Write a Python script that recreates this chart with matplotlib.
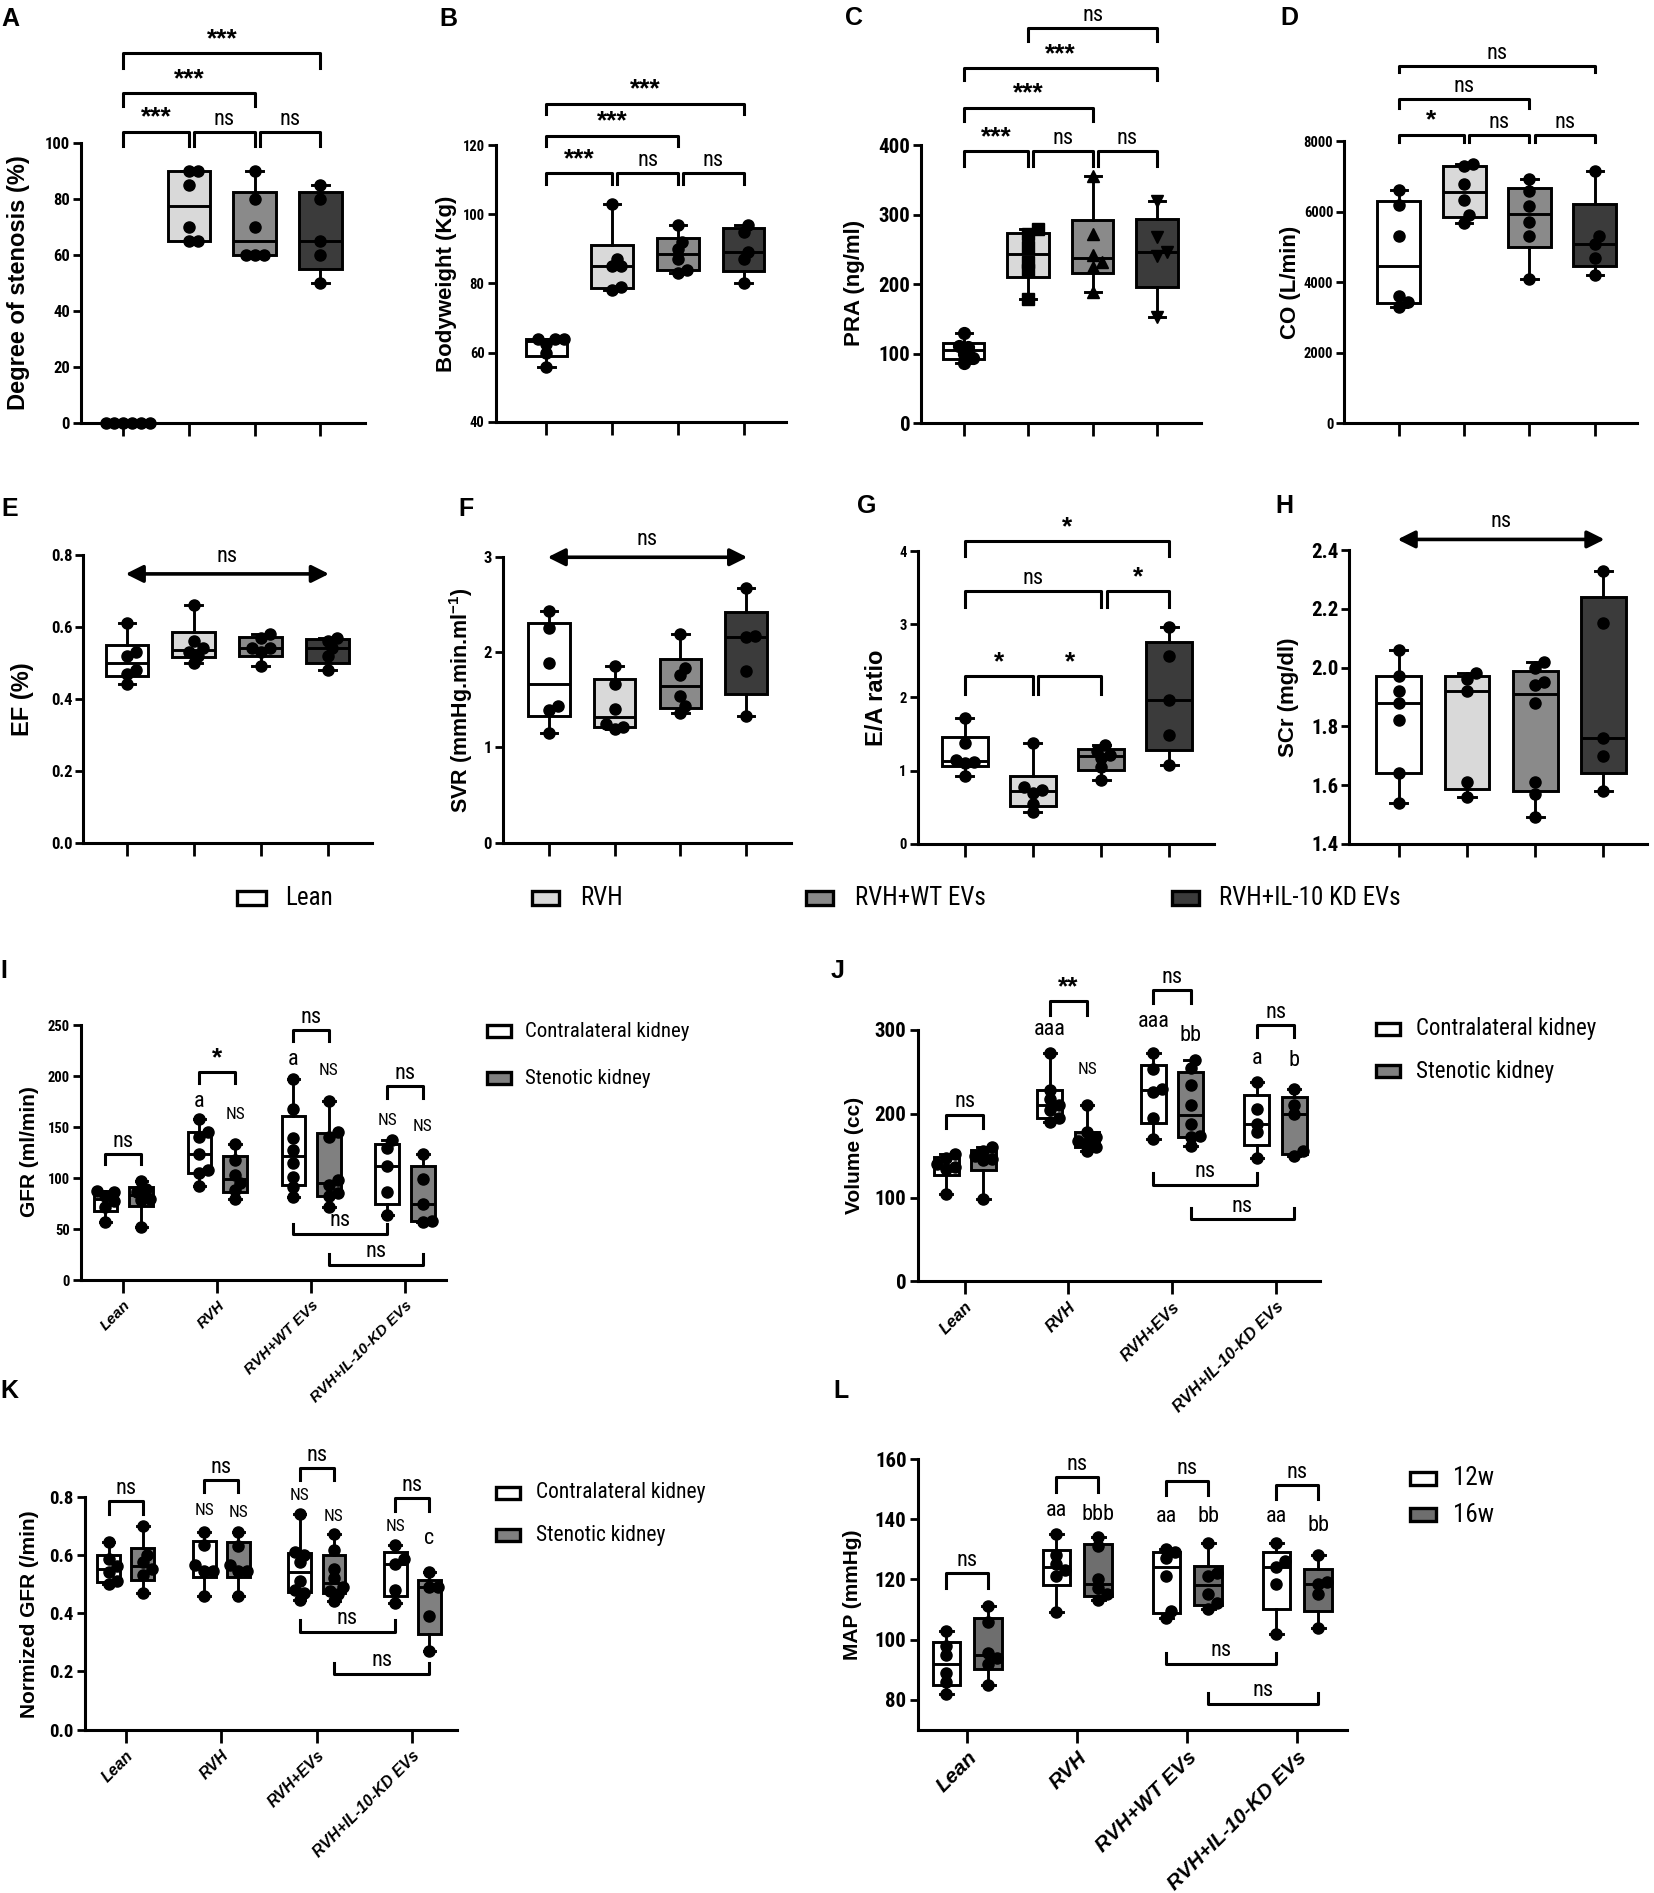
import numpy as np
import matplotlib.pyplot as plt
from matplotlib import font_manager as fm
from matplotlib.patches import Rectangle

# pick a narrow sans for ticks / annotations if one is installed
names = {f.name for f in fm.fontManager.ttflist}
narrow, stretch = 'Liberation Sans', 'normal'
for n in ['Liberation Sans Narrow', 'Arial Narrow', 'Roboto Condensed', 'Open Sans Condensed', 'Noto Sans Condensed']:
    if n in names:
        narrow = n
        break
else:
    for n in ['Noto Sans', 'Open Sans', 'Roboto', 'DejaVu Sans']:
        if any(f.name == n and 'condensed' in str(f.stretch) for f in fm.fontManager.ttflist):
            narrow, stretch = n, 'condensed'
            break

plt.rcParams['font.family'] = [narrow, 'Liberation Sans', 'DejaVu Sans']
plt.rcParams['font.stretch'] = stretch
plt.rcParams['mathtext.fontset'] = 'custom'
plt.rcParams['mathtext.rm'] = 'Liberation Sans'
plt.rcParams['mathtext.bf'] = 'Liberation Sans:bold'

# ---- data ----
groups = ['Lean', 'RVH', 'RVH+WT EVs', 'RVH+IL-10 KD EVs']
group_colors = ['#ffffff', '#d9d9d9', '#8a8a8a', '#3b3b3b']

stenosis = [[0, 0, 0, 0, 0, 0], [65, 65, 70, 85, 90, 90], [60, 60, 60, 70, 80, 90], [50, 60, 65, 80, 85]]
bodyweight = [[56, 60, 62.5, 64, 64, 64], [78, 79, 85, 85, 87, 103], [83, 84, 87, 90, 92, 97], [80, 87, 89, 95, 97]]
pra = [[87, 93, 100, 110, 111, 130], [178, 220, 232, 254, 272, 279], [188, 225, 232, 242, 272, 355], [152, 240, 246, 268, 320]]
co = [[3300, 3450, 3600, 5300, 6200, 6630], [5680, 5900, 6330, 6800, 7300, 7350],
      [4100, 5300, 5700, 6160, 6600, 6930], [4200, 4700, 5080, 5300, 7150]]
ef = [[0.44, 0.47, 0.48, 0.52, 0.53, 0.61], [0.50, 0.52, 0.53, 0.54, 0.56, 0.66],
      [0.49, 0.53, 0.54, 0.54, 0.57, 0.58], [0.48, 0.52, 0.54, 0.56, 0.57]]
svr = [[1.15, 1.39, 1.44, 1.89, 2.26, 2.44], [1.19, 1.22, 1.25, 1.40, 1.67, 1.86],
       [1.36, 1.44, 1.54, 1.76, 1.84, 2.19], [1.33, 1.80, 2.16, 2.17, 2.68]]
ea = [[0.93, 1.10, 1.12, 1.15, 1.38, 1.72], [0.43, 0.55, 0.70, 0.74, 0.78, 1.38],
      [0.87, 1.05, 1.17, 1.22, 1.27, 1.35], [1.07, 1.49, 1.96, 2.57, 2.96]]
scr = [[1.54, 1.64, 1.82, 1.88, 1.92, 1.97, 2.06], [1.56, 1.61, 1.92, 1.96, 1.98],
       [1.49, 1.57, 1.61, 1.88, 1.94, 1.95, 2.00, 2.02], [1.58, 1.70, 1.76, 2.15, 2.33]]

kidney_labels = ['Contralateral kidney', 'Stenotic kidney']
week_labels = ['12w', '16w']
gfr_contra = [[57, 72, 78, 82, 86, 87], [92, 105, 108, 124, 140, 145, 158],
              [81, 91, 101, 115, 128, 139, 168, 197], [64, 86, 112, 130, 137]]
gfr_sten = [[52, 79, 80, 86, 89, 97], [80, 88, 95, 103, 118, 133],
            [72, 82, 85, 93, 98, 140, 145, 176], [57, 58, 75, 99, 124]]
vol_contra = [[104, 134, 136, 140, 147, 152], [190, 195, 205, 210, 218, 228, 272],
              [170, 195, 226, 230, 253, 273], [147, 178, 188, 206, 238]]
vol_sten = [[98, 145, 146, 150, 155, 160], [155, 160, 165, 168, 172, 178, 210],
            [162, 172, 174, 188, 210, 234, 255, 264], [150, 155, 200, 210, 230]]
ngfr_contra = [[0.50, 0.51, 0.54, 0.56, 0.585, 0.645], [0.46, 0.545, 0.545, 0.565, 0.635, 0.68],
               [0.445, 0.47, 0.48, 0.51, 0.575, 0.60, 0.61, 0.74], [0.435, 0.48, 0.57, 0.585, 0.635]]
ngfr_sten = [[0.47, 0.53, 0.55, 0.575, 0.60, 0.70], [0.46, 0.545, 0.545, 0.565, 0.63, 0.68],
             [0.44, 0.465, 0.475, 0.49, 0.52, 0.55, 0.615, 0.67], [0.27, 0.39, 0.49, 0.49, 0.54]]
map_12w = [[82, 86, 89, 95, 98, 103], [109, 121, 123, 125, 128, 135],
           [107, 109.5, 121, 127, 129, 130], [102, 118.5, 124, 126, 132]]
map_16w = [[85, 92, 94, 95.5, 106, 111], [113, 115, 117, 120, 131, 134],
           [110, 112, 115, 121, 122, 132], [104, 115, 118.5, 119, 128]]

xlab_I = ['Lean', 'RVH', 'RVH+WT EVs', 'RVH+IL-10-KD EVs']
xlab_J = ['Lean', 'RVH', 'RVH+EVs', 'RVH+IL-10-KD EVs']
xlab_K = ['Lean', 'RVH', 'RVH+EVs', 'RVH+IL-10-KD EVs']
xlab_L = ['Lean', 'RVH', 'RVH+WT EVs', 'RVH+IL-10-KD EVs']

# comparisons (i, j, label, bracket top, leg end)
cmp_A = [(0, 1, '***', 103.9, 98.8), (1, 2, 'ns', 103.9, 98.8), (2, 3, 'ns', 103.9, 98.8),
         (0, 2, '***', 117.6, 113), (0, 3, '***', 131.9, 126.5)]
cmp_B = [(0, 1, '***', 111.8, 108.8), (1, 2, 'ns', 111.8, 108.8), (2, 3, 'ns', 111.8, 108.8),
         (0, 2, '***', 122.7, 119.8), (0, 3, '***', 132, 129)]
cmp_C = [(0, 1, '***', 391, 370), (1, 2, 'ns', 391, 370), (2, 3, 'ns', 391, 370),
         (0, 2, '***', 454, 435), (0, 3, '***', 511, 493), (1, 3, 'ns', 569, 550)]
cmp_D = [(0, 1, '*', 8190, 7970), (1, 2, 'ns', 8190, 7970), (2, 3, 'ns', 8190, 7970),
         (0, 2, 'ns', 9210, 8940), (0, 3, 'ns', 10150, 9980)]
cmp_G = [(0, 1, '*', 2.29, 2.05), (1, 2, '*', 2.29, 2.05), (0, 2, 'ns', 3.45, 3.24),
         (2, 3, '*', 3.45, 3.24), (0, 3, '*', 4.14, 3.93)]
arrow_E = (0.747, 'ns')
arrow_F = (3.0, 'ns')
arrow_H = (2.436, 'ns')

# paired panels: upper (group, label, top, leg), lower (g1, g2, side, label, line, leg), letters (group, side, text, y)
up_I = [(0, 'ns', 124, 114), (1, '*', 204, 193), (2, 'ns', 245, 234), (3, 'ns', 190, 179)]
low_I = [(2, 3, -1, 'ns', 45, 55.5), (2, 3, 1, 'ns', 14.7, 25.5)]
let_I = [(1, -1, 'a', 175), (1, 1, 'NS', 162), (2, -1, 'a', 216), (2, 1, 'NS', 205), (3, -1, 'NS', 156), (3, 1, 'NS', 151)]
up_J = [(0, 'ns', 199, 183), (1, '**', 334, 318), (2, 'ns', 348, 332), (3, 'ns', 306, 292)]
low_J = [(2, 3, -1, 'ns', 115, 129), (2, 3, 1, 'ns', 74, 87)]
let_J = [(1, -1, 'aaa', 300), (1, 1, 'NS', 253), (2, -1, 'aaa', 310), (2, 1, 'bb', 293), (3, -1, 'a', 266), (3, 1, 'b', 264)]
up_K = [(0, 'ns', 0.783, 0.741), (1, 'ns', 0.855, 0.815), (2, 'ns', 0.898, 0.857), (3, 'ns', 0.794, 0.752)]
low_K = [(2, 3, -1, 'ns', 0.337, 0.375), (2, 3, 1, 'ns', 0.192, 0.229)]
let_K = [(1, -1, 'NS', 0.752), (1, 1, 'NS', 0.744), (2, -1, 'NS', 0.803), (2, 1, 'NS', 0.733), (3, -1, 'NS', 0.698), (3, 1, 'c', 0.655)]
up_L = [(0, 'ns', 122, 117.3), (1, 'ns', 154, 149), (2, 'ns', 152.8, 148), (3, 'ns', 151.4, 146.7)]
low_L = [(2, 3, -1, 'ns', 91.8, 95.6), (2, 3, 1, 'ns', 78.5, 82.4)]
let_L = [(1, -1, 'aa', 143), (1, 1, 'bbb', 141.5), (2, -1, 'aa', 141), (2, 1, 'bb', 141), (3, -1, 'aa', 141), (3, 1, 'bb', 137.8)]

# ---- layout helpers (reference measured on a 1368 x 1566 grid) ----
W, H = 1368.0, 1566.0
fig = plt.figure(figsize=(16.54, 18.93), dpi=100)


def add_panel(spine, end, ybot, ytop, c0, c3, ylim):
    ax = fig.add_axes([spine / W, 1 - ybot / H, (end - spine) / W, (ybot - ytop) / H])
    step = (c3 - c0) / 3
    ax.set_xlim(-(c0 - spine) / step, (end - c0) / step)
    ax.set_ylim(*ylim)
    ax.spines[['top', 'right']].set_visible(False)
    ax.spines[['left', 'bottom']].set_linewidth(2.2)
    ax.patch.set_alpha(0)
    return ax


def style_ticks(ax, yticks, fmt, size, xlabels=None, xsize=11):
    ax.set_yticks(yticks)
    ax.set_yticklabels([fmt.format(t) for t in yticks], fontsize=size, fontweight='bold')
    ax.tick_params(axis='y', length=6, width=2, pad=2)
    ax.set_xticks(range(4))
    ax.tick_params(axis='x', length=9, width=2, pad=4)
    if xlabels is None:
        ax.set_xticklabels([])
    else:
        ax.set_xticklabels(xlabels, rotation=45, ha='right', rotation_mode='anchor',
                           fontsize=xsize, fontweight='bold', fontstyle='italic',
                           family='Liberation Sans', stretch='normal')


def box_stats(v):
    v = np.asarray(v, float)
    q1, med, q3 = np.percentile(v, [25, 50, 75], method='weibull')
    return dict(med=med, q1=q1, q3=q3, whislo=v.min(), whishi=v.max(), fliers=[])


def swarm_x(ax, xc, vals, diam):
    t = ax.transData
    y = t.transform(np.column_stack([np.full(len(vals), xc), vals]))[:, 1]
    ppu = t.transform((1, 0))[0] - t.transform((0, 0))[0]
    steps = [0] + [s * k for k in range(1, 10) for s in (1, -1)]
    placed, offs = [], np.zeros(len(vals))
    for i in np.argsort(y, kind='stable'):
        for k in steps:
            xo = k * diam * 0.4
            if all(np.hypot(xo - px, y[i] - py) >= 0.7 * diam for px, py in placed):
                break
        placed.append((xo, y[i]))
        offs[i] = xo
    return xc + offs / ppu


def boxes(ax, data, pos, colors, width, capw, markers='o', ms=8):
    art = ax.bxp([box_stats(v) for v in data], positions=pos, widths=width, capwidths=capw,
                 patch_artist=True, showfliers=False, manage_ticks=False,
                 boxprops=dict(linewidth=2.1, edgecolor='black'),
                 medianprops=dict(color='black', linewidth=2.1),
                 whiskerprops=dict(color='black', linewidth=2.1),
                 capprops=dict(color='black', linewidth=2.1))
    for patch, c in zip(art['boxes'], colors):
        patch.set_facecolor(c)
    for k, (vals, p) in enumerate(zip(data, pos)):
        m = markers[k] if isinstance(markers, list) else markers
        xs = swarm_x(ax, p, vals, ms * 100 / 72)
        ax.plot(xs, vals, ls='none', marker=m, color='black', ms=ms, zorder=4, clip_on=False)


def stars_kw(label):
    if '*' in label:
        return dict(fontsize=19, fontweight='bold', family='Liberation Sans', stretch='normal')
    return dict(fontsize=16)


def bracket(ax, x1, x2, top, leg, label, pad=1.5):
    ax.plot([x1, x1, x2, x2], [leg, top, top, leg], color='black', lw=2.2, clip_on=False)
    ax.annotate(label, ((x1 + x2) / 2, top), xytext=(0, pad), textcoords='offset points',
                ha='center', va='bottom', annotation_clip=False, **stars_kw(label))


def low_bracket(ax, x1, x2, line, leg, label):
    ax.plot([x1, x1, x2, x2], [leg, line, line, leg], color='black', lw=2.2, clip_on=False)
    ax.annotate(label, ((x1 + x2) / 2, line), xytext=(0, 2), textcoords='offset points',
                ha='center', va='bottom', annotation_clip=False, fontsize=16)


def group_brackets(ax, specs):
    for i, j, label, top, leg in specs:
        shared = any(s[1] == i and s[3] == top for s in specs)
        bracket(ax, i + (0.08 if shared else 0), j, top, leg, label)


def arrow(ax, y, label):
    ax.annotate('', xy=(-0.02, y), xytext=(3.02, y), annotation_clip=False,
                arrowprops=dict(arrowstyle='<|-|>', lw=2.6, color='black', mutation_scale=26,
                                shrinkA=0, shrinkB=0))
    ax.annotate(label, (1.5, y), xytext=(0, 5), textcoords='offset points',
                ha='center', va='bottom', fontsize=16, annotation_clip=False)


def ylabel(x, y, text, size=16):
    fig.text(x / W, 1 - y / H, text, rotation=90, ha='center', va='center',
             fontsize=size, fontweight='bold', family='Liberation Sans', stretch='normal')


def letter(x, y, text):
    fig.text(x / W, 1 - y / H, text, ha='left', va='center', fontsize=18,
             fontweight='bold', family='Liberation Sans', stretch='normal')


def legend_item(xl, xr, yc, hgt, color, label, tx, size):
    fig.add_artist(Rectangle((xl / W, 1 - (yc + hgt / 2) / H), (xr - xl) / W, hgt / H,
                             transform=fig.transFigure, facecolor=color, edgecolor='black', lw=2.4))
    fig.text(tx / W, 1 - yc / H, label, ha='left', va='center', fontsize=size)


def paired(ax, left, right, colors, ups, lows, lets, off=0.19, width=0.25):
    pos = np.arange(4)
    boxes(ax, left, pos - off, [colors[0]] * 4, width, 0.12)
    boxes(ax, right, pos + off, [colors[1]] * 4, width, 0.12)
    for g, label, top, leg in ups:
        bracket(ax, g - off, g + off, top, leg, label)
    for g1, g2, side, label, line, leg in lows:
        low_bracket(ax, g1 + side * off, g2 + side * off, line, leg, label)
    for g, side, text, y in lets:
        ax.text(g + side * off, y, text, ha='center', va='center',
                fontsize=12.5 if text == 'NS' else 16, clip_on=False)


pos4 = np.arange(4)

# ---- row 1 ----
ax = add_panel(67, 302, 350, 118, 102, 265, (0, 100))
boxes(ax, stenosis, pos4, group_colors, 0.65, 0.25)
style_ticks(ax, np.arange(0, 101, 20), '{:g}', 12)
group_brackets(ax, cmp_A)
ylabel(15, 234, 'Degree of stenosis (%)', 17)
letter(1, 16, 'A')

ax = add_panel(410, 650, 349, 120, 452, 615, (40, 120))
boxes(ax, bodyweight, pos4, group_colors, 0.63, 0.25)
style_ticks(ax, np.arange(40, 121, 20), '{:g}', 10.5)
group_brackets(ax, cmp_B)
ylabel(369, 235, 'Bodyweight (Kg)')
letter(363, 16, 'B')

ax = add_panel(762, 993, 350, 120, 797, 957, (0, 400))
boxes(ax, pra, pos4, group_colors, 0.64, 0.25, markers=['o', 's', '^', 'v'], ms=8.5)
style_ticks(ax, np.arange(0, 401, 100), '{:g}', 15)
group_brackets(ax, cmp_C)
ylabel(707, 234, 'PRA (ng/ml)')
letter(699, 15, 'C')

ax = add_panel(1112, 1354, 350, 117, 1157, 1319, (0, 8000))
boxes(ax, co, pos4, group_colors, 0.66, 0.25)
style_ticks(ax, np.arange(0, 8001, 2000), '{:g}', 10.5)
group_brackets(ax, cmp_D)
ylabel(1067, 234, 'CO (L/min)')
letter(1059, 15, 'D')

# ---- row 2 ----
ax = add_panel(69, 308, 697, 459, 105, 271, (0, 0.8))
boxes(ax, ef, pos4, group_colors, 0.64, 0.25)
style_ticks(ax, np.arange(0, 0.81, 0.2), '{:.1f}', 12)
arrow(ax, *arrow_E)
ylabel(19, 578, 'EF (%)', 17)
letter(1, 421, 'E')

ax = add_panel(416, 654, 697, 461, 454, 617, (0, 3))
boxes(ax, svr, pos4, group_colors, 0.63, 0.25)
style_ticks(ax, np.arange(0, 4), '{:g}', 12)
arrow(ax, *arrow_F)
ylabel(381, 579, r'SVR (mmHg.min.ml$^{\mathbf{-1}}$)', 15.5)
letter(379, 421, 'F')

ax = add_panel(759, 1004, 698, 456, 798, 967, (0, 4))
boxes(ax, ea, pos4, group_colors, 0.67, 0.25)
style_ticks(ax, np.arange(0, 5), '{:g}', 10.5)
group_brackets(ax, cmp_G)
ylabel(725, 577, 'E/A ratio', 17)
letter(709, 419, 'G')

ax = add_panel(1116, 1362, 698, 455, 1157, 1326, (1.4, 2.4))
boxes(ax, scr, pos4, group_colors, 0.66, 0.25)
style_ticks(ax, np.arange(1.4, 2.41, 0.2), '{:.1f}', 15)
arrow(ax, *arrow_H)
ylabel(1066, 577, 'SCr (mg/dl)')
letter(1055, 419, 'H')

# shared legend for A-H
for (xl, xr, tx), c, g in zip([(196, 220, 236), (440, 462, 480), (667, 689, 707), (969, 992, 1008)],
                              group_colors, groups):
    legend_item(xl, xr, 743, 11, c, g, tx, 18)

# ---- row 3 ----
ax = add_panel(67, 369, 1059, 848, 102, 335, (0, 250))
paired(ax, gfr_contra, gfr_sten, ['#ffffff', '#808080'], up_I, low_I, let_I)
style_ticks(ax, np.arange(0, 251, 50), '{:g}', 10.5, xlab_I, 11)
ylabel(24, 953, 'GFR (ml/min)', 15)
letter(0, 803, 'I')
for k, c in enumerate(['#ffffff', '#808080']):
    legend_item(403, 423, 853 + 39 * k, 10, c, kidney_labels[k], 434, 15)

ax = add_panel(759, 1092, 1060, 852, 798, 1055, (0, 300))
paired(ax, vol_contra, vol_sten, ['#ffffff', '#808080'], up_J, low_J, let_J, off=0.18, width=0.24)
style_ticks(ax, np.arange(0, 301, 100), '{:g}', 15, xlab_J, 12)
ylabel(707, 956, 'Volume (cc)', 15)
letter(687, 803, 'J')
for k, c in enumerate(['#ffffff', '#808080']):
    legend_item(1138, 1158, 851 + 35 * k, 10, c, kidney_labels[k], 1171, 16.5)

# ---- row 4 ----
ax = add_panel(70, 378, 1431, 1238, 104, 341, (0, 0.8))
paired(ax, ngfr_contra, ngfr_sten, ['#ffffff', '#808080'], up_K, low_K, let_K, off=0.18, width=0.24)
style_ticks(ax, np.arange(0, 0.81, 0.2), '{:.1f}', 13.5, xlab_K, 11.5)
ylabel(24, 1335, 'Normized GFR (/min)', 15)
letter(0, 1151, 'K')
for k, c in enumerate(['#ffffff', '#808080']):
    legend_item(410, 430, 1235 + 35 * k, 10, c, kidney_labels[k], 443, 15.5)

ax = add_panel(759, 1114, 1431, 1207, 800, 1073, (70, 160))
paired(ax, map_12w, map_16w, ['#ffffff', '#6e6e6e'], up_L, low_L, let_L)
style_ticks(ax, np.arange(80, 161, 20), '{:g}', 15, xlab_L, 15)
ylabel(705, 1319, 'MAP (mmHg)', 15)
letter(689, 1151, 'L')
for k, c in enumerate(['#ffffff', '#6e6e6e']):
    legend_item(1166, 1188, 1223 + 30 * k, 11, c, week_labels[k], 1202, 18)

fig.savefig('out.png', dpi=100)
